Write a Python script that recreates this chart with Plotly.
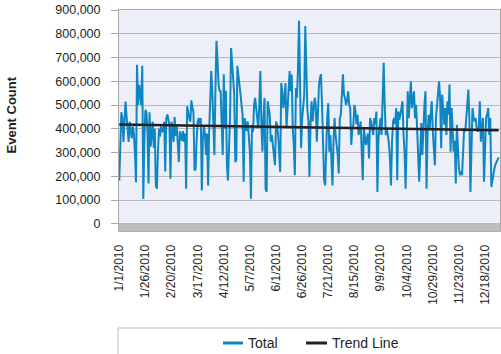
import plotly.graph_objects as go

# daily event counts (one point per reporting day, 364 points)
total = [
    182000, 300000, 470000, 445000, 345000, 430000, 515000, 450000, 400000, 345000,
    430000, 395000, 360000, 410000, 380000, 300000, 175000, 670000, 500000, 585000,
    540000, 500000, 665000, 105000, 350000, 480000, 470000, 390000, 170000, 470000,
    325000, 400000, 430000, 320000, 400000, 160000, 148000, 300000, 400000, 367000,
    410000, 390000, 390000, 430000, 220000, 445000, 460000, 440000, 415000, 190000,
    430000, 400000, 345000, 450000, 370000, 415000, 340000, 260000, 390000, 370000,
    350000,
    390000, 345000, 380000, 148000, 495000, 460000, 445000, 430000, 520000, 490000,
    470000, 225000, 230000, 350000, 430000, 445000, 420000, 445000, 140000, 360000,
    410000, 380000, 290000, 380000, 162000, 390000, 487000, 643000, 560000, 430000,
    290000, 560000, 770000, 690000, 585000, 560000, 558000, 420000, 290000, 630000,
    400000, 560000, 247000, 183000, 300000, 450000, 740000, 685000, 600000, 545000,
    260000, 270000, 665000, 630000, 600000, 545000, 500000, 460000, 177000, 445000,
    420000, 390000,
    431000, 374000, 300000, 106000, 417000, 388000, 500000, 530000, 487000, 459000,
    403000, 500000, 643000, 417000, 304000, 450000, 530000, 148000, 134000, 516000,
    480000, 459000, 346000, 374000, 330000, 290000, 247000, 431000, 417000, 374000,
    300000, 219000, 593000, 558000, 487000, 520000, 593000, 403000, 480000, 558000,
    643000, 558000, 629000, 400000, 332000, 205000, 572000, 530000, 650000, 855000,
    487000, 318000, 445000, 500000, 544000, 833000, 558000, 480000, 431000, 198000,
    420000, 516000,
    431000, 480000, 530000, 501000, 346000, 450000, 579000, 614000, 629000, 500000,
    360000, 184000, 162000, 374000, 450000, 508000, 304000, 374000, 250000, 162000,
    346000, 445000, 374000, 330000, 290000, 212000, 445000, 459000, 550000, 629000,
    544000, 530000, 501000, 520000, 558000, 501000, 487000, 332000, 400000, 417000,
    501000, 473000, 420000, 459000, 374000, 400000, 431000, 300000, 184000, 403000,
    360000, 332000, 360000, 380000, 275000, 445000, 431000, 400000, 374000, 445000,
    420000,
    473000, 134000, 360000, 420000, 445000, 374000, 572000, 678000, 500000, 374000,
    403000, 374000, 340000, 275000, 162000, 346000, 431000, 445000, 420000, 487000,
    184000, 473000, 438000, 460000, 487000, 516000, 374000, 300000, 148000, 445000,
    558000, 445000, 520000, 600000, 487000, 520000, 558000, 445000, 501000, 403000,
    250000, 177000, 304000, 424000, 290000, 445000, 500000, 558000, 148000, 374000,
    459000, 403000, 460000, 516000, 388000, 330000, 247000, 445000, 501000, 560000,
    600000,
    530000, 318000, 544000, 450000, 417000, 487000, 374000, 516000, 460000, 586000,
    304000, 487000, 374000, 304000, 350000, 170000, 417000, 300000, 233000, 205000,
    220000, 205000, 330000, 403000, 388000, 431000, 500000, 565000, 445000, 134000,
    374000, 487000, 450000, 431000, 445000, 400000, 388000, 403000, 516000, 346000,
    400000, 445000, 177000, 374000, 445000, 460000, 487000, 374000, 445000, 155000,
    190000, 215000, 235000, 250000, 262000, 272000, 280000,
]

# linear trend line end values
trend_values = [418000, 394000]

# category axis labels (every 25th day)
tick_labels = ["1/1/2010", "1/26/2010", "2/20/2010", "3/17/2010", "4/12/2010",
               "5/7/2010", "6/1/2010", "6/26/2010", "7/21/2010", "8/15/2010",
               "9/9/2010", "10/4/2010", "10/29/2010", "11/23/2010", "12/18/2010"]
tick_step = 25
y_ticks = [0, 100000, 200000, 300000, 400000, 500000, 600000, 700000, 800000, 900000]

series_names = ["Total", "Trend Line"]

BLUE = "#0E86C2"
DARK = "#231F20"
GRID = "#B7B7BC"
FONT = "Liberation Sans, Arial, Helvetica, sans-serif"

idx = list(range(len(total)))
trend_x = [idx[0], idx[-1]]

fig = go.Figure()
fig.add_trace(go.Scatter(x=idx, y=total, mode="lines", name=series_names[0],
                         line=dict(color=BLUE, width=2), showlegend=False))
fig.add_trace(go.Scatter(x=trend_x, y=trend_values, mode="lines", name=series_names[1],
                         line=dict(color=DARK, width=2.5), showlegend=False))

W, H = 501, 354
ml, mr, mt, mb = 119, 1, 10, 123
pw = W - ml - mr
ph = H - mt - mb


def px_x(p):
    return (p - ml) / pw


def px_y(p):
    return (H - mb - p) / ph


# floor below zero
fig.add_shape(type="rect", xref="paper", yref="y", x0=0, x1=1, y0=-30000, y1=0,
              fillcolor="#BDBDC2", line=dict(width=0), layer="below")

# legend (custom drawn)
fig.add_shape(type="rect", xref="paper", yref="paper",
              x0=px_x(118), x1=px_x(506), y0=px_y(328), y1=px_y(360),
              line=dict(color="#BBBBBB", width=1), fillcolor="rgba(0,0,0,0)")
ly = px_y(343)
fig.add_shape(type="line", xref="paper", yref="paper", x0=px_x(223), x1=px_x(243),
              y0=ly, y1=ly, line=dict(color=BLUE, width=3))
fig.add_shape(type="line", xref="paper", yref="paper", x0=px_x(306), x1=px_x(327),
              y0=ly, y1=ly, line=dict(color=DARK, width=3))
fig.add_annotation(xref="paper", yref="paper", x=px_x(246), y=ly, text=series_names[0],
                   showarrow=False, xanchor="left", yanchor="middle",
                   font=dict(family=FONT, size=14, color=DARK))
fig.add_annotation(xref="paper", yref="paper", x=px_x(330), y=ly, text=series_names[1],
                   showarrow=False, xanchor="left", yanchor="middle",
                   font=dict(family=FONT, size=14, color=DARK))

# y axis title
fig.add_annotation(xref="paper", yref="paper", x=px_x(10.5), y=px_y(115), text="Event Count",
                   textangle=-90, showarrow=False, xanchor="center", yanchor="middle",
                   font=dict(family="Liberation Sans Narrow, Arial Narrow, Liberation Sans, Arial, sans-serif",
                             size=13, color=DARK, weight="bold"))

fig.update_layout(
    width=W, height=H,
    margin=dict(l=ml, r=mr, t=mt, b=mb, pad=0),
    paper_bgcolor="white",
    plot_bgcolor="#ECEEF8",
    font=dict(family=FONT, color=DARK, size=12),
    showlegend=False,
    xaxis=dict(
        range=[-0.25, len(total) + 0.3],
        tickmode="array",
        tickvals=list(range(0, len(total), tick_step))[:len(tick_labels)],
        ticktext=tick_labels,
        tickangle=-90,
        tickfont=dict(family=FONT, size=12, color=DARK),
        showgrid=False, zeroline=False,
        showline=True, mirror=True, linecolor="#B0B0B5", linewidth=1,
        ticks="", ticklabelstandoff=8,
    ),
    yaxis=dict(
        range=[-30000, 900000],
        tickmode="array",
        tickvals=y_ticks,
        tickformat=",d",
        tickfont=dict(family=FONT, size=12.5, color=DARK),
        showgrid=True, gridcolor=GRID, gridwidth=1,
        zeroline=False,
        showline=True, mirror=True, linecolor="#A8A8AD", linewidth=1,
        ticks="outside", ticklen=7, tickcolor="#A8A8AD", ticklabelstandoff=8,
    ),
)

fig.write_html("out.html")
